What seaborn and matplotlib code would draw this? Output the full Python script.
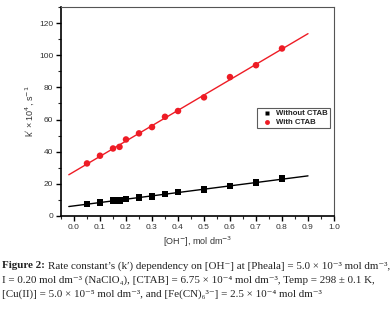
import numpy as np
import pandas as pd
import matplotlib
matplotlib.use("Agg")
import matplotlib.pyplot as plt
import seaborn as sns
from matplotlib.ticker import MultipleLocator

# dati
oh = [0.05, 0.1, 0.15, 0.175, 0.2, 0.25, 0.3, 0.35, 0.4, 0.5, 0.6, 0.7, 0.8]
k_senza = [7.5, 8.5, 9.5, 9.6, 10.6, 11.4, 12.2, 13.7, 14.9, 16.4, 18.6, 20.7, 23.2]
k_con = [32.7, 37.5, 42.0, 43.0, 47.6, 51.4, 55.3, 61.7, 65.3, 73.8, 86.4, 93.8, 104.2]
serie = ["Without CTAB", "With CTAB"]
x_ticks = [0.0, 0.1, 0.2, 0.3, 0.4, 0.5, 0.6, 0.7, 0.8, 0.9, 1.0]

df = pd.DataFrame({
    "OH": oh * 2,
    "k": k_senza + k_con,
    "serie": [serie[0]] * len(oh) + [serie[1]] * len(oh),
})

sns.set_style("ticks")
plt.rcParams["font.family"] = ["Liberation Sans", "DejaVu Sans"]

fig = plt.figure(figsize=(3.91, 3.11), dpi=100)
ax = fig.add_axes([61 / 391, 1 - 216 / 311, (334 - 61) / 391, (216 - 7) / 311])

colori = {serie[0]: "black", serie[1]: "#ee1c25"}
marker = {serie[0]: "s", serie[1]: "o"}

# rette di regressione
xx = np.linspace(-0.02, 0.9, 50)
for s in serie:
    d = df[df["serie"] == s]
    m, q = np.polyfit(d["OH"], d["k"], 1)
    sns.lineplot(x=xx, y=m * xx + q, color=colori[s], lw=1.0, ax=ax, legend=False)

sns.scatterplot(data=df, x="OH", y="k", hue="serie", style="serie",
                palette=colori, markers=marker, s=22, edgecolor="none", ax=ax)

ax.set_xlim(-0.05, 1.0)
ax.set_ylim(0, 130)
ax.set_xticks(x_ticks)
ax.set_xticklabels([f"{t:.1f}" for t in x_ticks])
ax.xaxis.set_minor_locator(MultipleLocator(0.05))
ax.set_yticks([0, 20, 40, 60, 80, 100, 120])
ax.yaxis.set_minor_locator(MultipleLocator(10))
ax.tick_params(which="major", direction="out", length=3.5, width=1.0, labelsize=6, colors="black", labelcolor="#333333", pad=2)
ax.tick_params(which="minor", direction="out", length=2, width=0.8)
for lato in ["left", "bottom"]:
    ax.spines[lato].set_linewidth(1.2)
    ax.spines[lato].set_color("black")
for lato in ["top", "right"]:
    ax.spines[lato].set_linewidth(0.8)
    ax.spines[lato].set_color("#555555")

ax.set_xlabel("[OH$^{-}$], mol dm$^{-3}$", fontsize=6.5, color="#333333", labelpad=3)
ax.set_ylabel("k$'$ × 10$^{4}$, s$^{-1}$", fontsize=6.5, color="#333333", labelpad=2)

leg = ax.legend(title=None, loc="upper right", bbox_to_anchor=(0.998, 0.535),
                fontsize=5.6, frameon=True, fancybox=False, handletextpad=0.2,
                borderpad=0.25, labelspacing=0.2, markerscale=0.75)
leg.get_frame().set_edgecolor("#333333")
leg.get_frame().set_linewidth(0.8)
for t in leg.get_texts():
    t.set_fontweight("bold")
    t.set_color("#222222")

# didascalia
cap = dict(fontsize=7.9, family=["Liberation Serif", "DejaVu Serif"], color="#222222")
t1 = fig.text(0.005, 1 - 266 / 311, "Figure 2:", fontweight="bold", va="center", **cap)
fig.canvas.draw()
bb = t1.get_window_extent()
fig.text((bb.x1 + 3) / 391, 1 - 266 / 311,
         "Rate constant’s (k′) dependency on [OH⁻] at [Pheala] = 5.0 × 10⁻³ mol dm⁻³,",
         va="center", **cap)
fig.text(0.005, 1 - 280 / 311,
         "I = 0.20 mol dm⁻³ (NaClO₄), [CTAB] = 6.75 × 10⁻⁴ mol dm⁻³, Temp = 298 ± 0.1 K,",
         va="center", **cap)
fig.text(0.005, 1 - 294 / 311,
         "[Cu(II)] = 5.0 × 10⁻⁵ mol dm⁻³, and [Fe(CN)₆³⁻] = 2.5 × 10⁻⁴ mol dm⁻³",
         va="center", **cap)

fig.savefig("out.png", dpi=100)
plt.close(fig)
